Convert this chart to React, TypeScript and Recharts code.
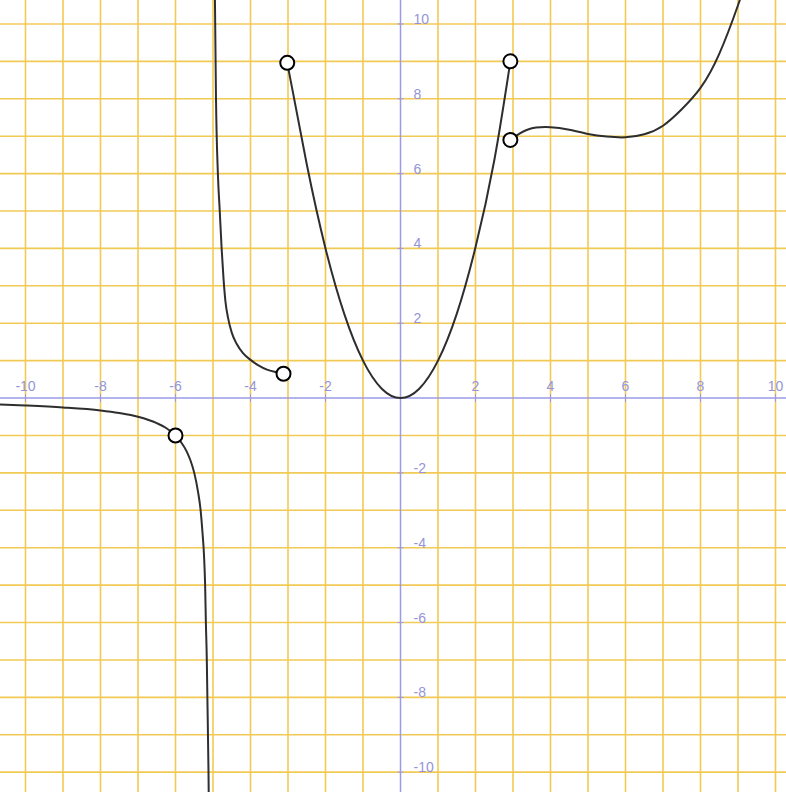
import { ComposedChart, Line, Scatter, XAxis, YAxis, ReferenceLine, ReferenceDot } from 'recharts'

// grid lines every unit, labels every second unit
const gridValues = [-10, -9, -8, -7, -6, -5, -4, -3, -2, -1, 1, 2, 3, 4, 5, 6, 7, 8, 9, 10]
const tickLabels = [-10, -8, -6, -4, -2, 2, 4, 6, 8, 10]

// left of the asymptote near x = -5
const branchLeft = [
  { x: -10.8, y: -0.17 },
  { x: -10, y: -0.2 },
  { x: -9, y: -0.25 },
  { x: -8, y: -0.33 },
  { x: -7.5, y: -0.4 },
  { x: -7, y: -0.5 },
  { x: -6.5, y: -0.67 },
  { x: -6.25, y: -0.8 },
  { x: -6, y: -1 },
  { x: -5.85, y: -1.18 },
  { x: -5.7, y: -1.43 },
  { x: -5.6, y: -1.67 },
  { x: -5.5, y: -2 },
  { x: -5.4, y: -2.5 },
  { x: -5.33, y: -3 },
  { x: -5.28, y: -3.6 },
  { x: -5.24, y: -4.2 },
  { x: -5.21, y: -5 },
  { x: -5.19, y: -6 },
  { x: -5.165, y: -7 },
  { x: -5.15, y: -8 },
  { x: -5.12, y: -10 },
  { x: -5.1, y: -12 },
]

// right of the asymptote, ends in a hole
const branchMiddle = [
  { x: -4.95, y: 10.8 },
  { x: -4.92, y: 8 },
  { x: -4.87, y: 6 },
  { x: -4.82, y: 5 },
  { x: -4.77, y: 4 },
  { x: -4.72, y: 3.2 },
  { x: -4.67, y: 2.6 },
  { x: -4.6, y: 2.15 },
  { x: -4.5, y: 1.75 },
  { x: -4.37, y: 1.45 },
  { x: -4.2, y: 1.2 },
  { x: -4, y: 1.02 },
  { x: -3.8, y: 0.88 },
  { x: -3.56, y: 0.76 },
  { x: -3.3, y: 0.69 },
  { x: -3.12, y: 0.65 },
]

const parabola = [
  { x: -3.02, y: 8.96 },
  { x: -2.5, y: 6.25 },
  { x: -2, y: 4 },
  { x: -1.5, y: 2.25 },
  { x: -1, y: 1 },
  { x: -0.5, y: 0.25 },
  { x: 0, y: 0 },
  { x: 0.5, y: 0.25 },
  { x: 1, y: 1 },
  { x: 1.5, y: 2.25 },
  { x: 2, y: 4.03 },
  { x: 2.5, y: 6.35 },
  { x: 2.93, y: 9 },
]

const branchRight = [
  { x: 2.93, y: 6.9 },
  { x: 3.4, y: 7.18 },
  { x: 4, y: 7.24 },
  { x: 4.5, y: 7.17 },
  { x: 5, y: 7.06 },
  { x: 5.5, y: 6.99 },
  { x: 6, y: 6.97 },
  { x: 6.5, y: 7.05 },
  { x: 7, y: 7.28 },
  { x: 7.5, y: 7.72 },
  { x: 8, y: 8.29 },
  { x: 8.5, y: 9.2 },
  { x: 9, y: 10.5 },
  { x: 9.3, y: 11.4 },
]

const holes = [
  { x: -6, y: -1 },
  { x: -3.12, y: 0.65 },
  { x: -3.02, y: 8.96 },
  { x: 2.93, y: 9 },
  { x: 2.93, y: 6.9 },
]

const GRID = '#f1ca55'
const AXIS = '#9a9ae8'
const LABEL = '#9494d8'
const CURVE = '#2e2e2e'

const labelFont = { fontFamily: 'Liberation Sans, Arial, sans-serif', fontSize: 14 }

function XTick(props: any) {
  const { cx, cy, label } = props
  return (
    <g>
      <line x1={cx} y1={cy - 4} x2={cx} y2={cy + 4} stroke={AXIS} strokeWidth={1} />
      <text x={cx} y={cy - 7} textAnchor="middle" fill={LABEL} style={labelFont}>{label}</text>
    </g>
  )
}

function YTick(props: any) {
  const { cx, cy, label } = props
  return (
    <g>
      <line x1={cx - 3} y1={cy} x2={cx + 3} y2={cy} stroke={AXIS} strokeWidth={1} />
      <text x={cx + 13} y={cy} textAnchor="start" fill={LABEL} style={labelFont}>{label}</text>
    </g>
  )
}

function Hole(props: any) {
  return <circle cx={props.cx} cy={props.cy} r={7} fill="#fff" stroke="#000" strokeWidth={2} />
}

export default function App() {
  return (
    <div style={{ position: 'absolute', left: 0, top: 0, background: '#fff' }}>
      <ComposedChart width={786} height={792} margin={{ top: 0, right: 0, bottom: 0, left: 0 }}>
        <XAxis type="number" dataKey="x" domain={[-10.68, 10.28]} allowDataOverflow hide />
        <YAxis type="number" dataKey="y" domain={[-10.53, 10.64]} allowDataOverflow hide />
        {gridValues.map((v) => (
          <ReferenceLine key={'gx' + v} x={v} stroke={GRID} strokeWidth={1.6} />
        ))}
        {gridValues.map((v) => (
          <ReferenceLine key={'gy' + v} y={v} stroke={GRID} strokeWidth={1.6} />
        ))}
        <ReferenceLine x={0} stroke={AXIS} strokeWidth={1.5} />
        <ReferenceLine y={0} stroke={AXIS} strokeWidth={1.5} />
        {tickLabels.map((v) => (
          <ReferenceDot key={'tx' + v} x={v} y={0} r={0} shape={(p: any) => <XTick {...p} label={String(v)} />} />
        ))}
        {tickLabels.map((v) => (
          <ReferenceDot key={'ty' + v} x={0} y={v} r={0} shape={(p: any) => <YTick {...p} label={String(v)} />} />
        ))}
        <Line data={branchLeft} dataKey="y" type="monotone" dot={false} stroke={CURVE} strokeWidth={2} isAnimationActive={false} />
        <Line data={branchMiddle} dataKey="y" type="monotone" dot={false} stroke={CURVE} strokeWidth={2} isAnimationActive={false} />
        <Line data={parabola} dataKey="y" type="natural" dot={false} stroke={CURVE} strokeWidth={2} isAnimationActive={false} />
        <Line data={branchRight} dataKey="y" type="natural" dot={false} stroke={CURVE} strokeWidth={2} isAnimationActive={false} />
        <Scatter data={holes} dataKey="y" shape={Hole} isAnimationActive={false} />
      </ComposedChart>
    </div>
  )
}
